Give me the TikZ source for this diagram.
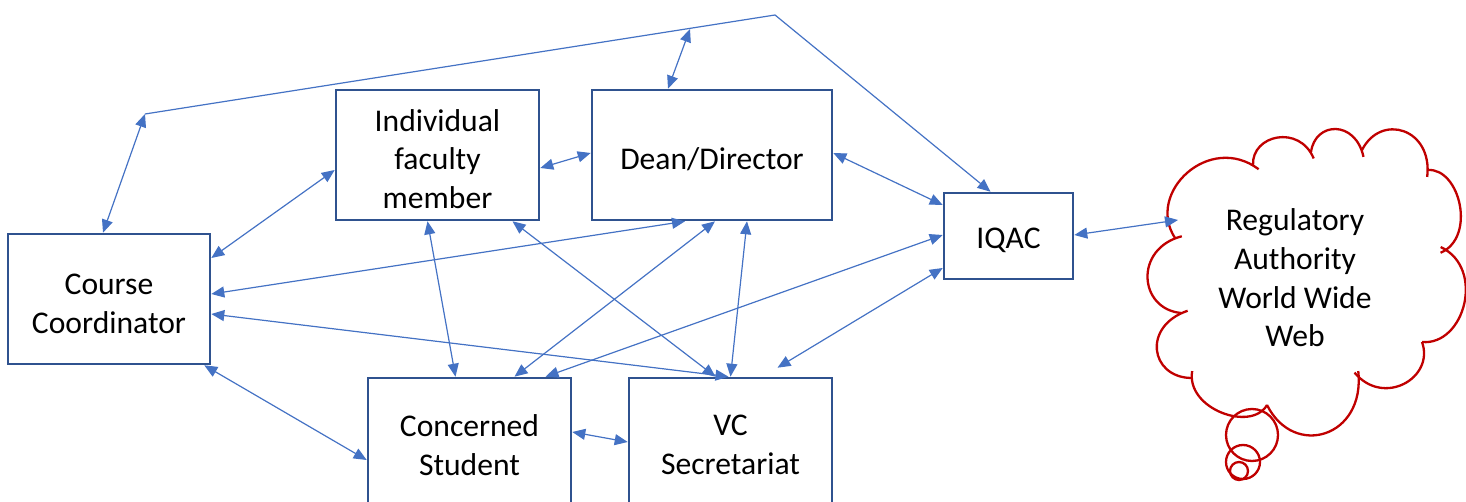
\documentclass[tikz,border=0pt]{standalone}
\usepackage{fontspec}
\setmainfont{Carlito}
\usetikzlibrary{arrows.meta,calc}
\definecolor{linkblue}{HTML}{4472C4}
\definecolor{boxblue}{HTML}{2F528F}
\definecolor{cloudred}{HTML}{C00000}
% taller first line, so the text block sits a little lower in its box
\newcommand{\firstline}{\rule{0pt}{30pt}}

\begin{document}
\begin{tikzpicture}[x=1pt,y=-1pt,
  unit/.style={draw=boxblue, line width=2.6pt, fill=white, inner sep=0pt,
    align=center, font=\fontsize{31.6}{38.6}\selectfont},
  link/.style={draw=linkblue, line width=1.2pt,
    {Triangle[length=13pt,width=11pt]}-{Triangle[length=13pt,width=11pt]}},
  oneway/.style={draw=linkblue, line width=1.2pt, -{Triangle[length=13pt,width=11pt]}},
  puff/.style={draw=cloudred, line width=2.3pt},
]
\useasboundingbox (0,0) rectangle (1466,502);

% the six offices
\node[unit, minimum width=202pt, minimum height=130pt] (cc)   at (109,299)   {\firstline Course\\Coordinator};
\node[unit, minimum width=203pt, minimum height=130pt] (ifm)  at (437.5,155) {\firstline Individual\\faculty\\member};
\node[unit, minimum width=240pt, minimum height=130pt] (dean) at (712,155)   {\firstline Dean/Director};
\node[unit, minimum width=129pt, minimum height=86pt]  (iqac) at (1008.5,236) {\firstline IQAC};
\node[unit, minimum width=203pt, minimum height=134pt] (cs)   at (469.5,445) {Concerned\\Student};
\node[unit, minimum width=203pt, minimum height=134pt] (vc)   at (730.5,445) {VC\\Secretariat};

% thought cloud: one arc per puff, each ending a little inside the next
\coordinate (cA) at (1175,238);
\coordinate (cB) at (1253,165);
\coordinate (cC) at (1311,152);
\coordinate (cD) at (1362,150);
\coordinate (cE) at (1428,170);
\coordinate (cF) at (1447,250);
\coordinate (cG) at (1422,342);
\coordinate (cH) at (1359,378);
\coordinate (cI) at (1267,405);
\coordinate (cJ) at (1191,378);
\coordinate (cK) at (1181,313);
\draw[puff, shorten >=-7pt] (cA) to[bend left=80, looseness=1.3]  (cB);
\draw[puff, shorten >=-7pt] (cB) to[bend left=80, looseness=1.3]  (cC);
\draw[puff, shorten >=-7pt] (cC) to[bend left=80, looseness=1.55] (cD);
\draw[puff, shorten >=-7pt] (cD) to[bend left=80, looseness=1.55] (cE);
\draw[puff, shorten >=-7pt] (cE) to[bend left=80, looseness=1.0]  (cF);
\draw[puff, shorten <=-7pt] (cF) to[bend left=80, looseness=1.15] (cG);
\draw[puff, shorten >=-7pt] (cG) to[bend left=80, looseness=1.35] (cH);
\draw[puff, shorten <=-7pt] (cH) to[bend left=80, looseness=1.6]  (cI);
\draw[puff, shorten >=-7pt] (cI) to[bend left=80, looseness=1.0]  (cJ);
\draw[puff, shorten >=-7pt] (cJ) to[bend left=80, looseness=1.6]  (cK);
\draw[puff, shorten >=-7pt] (cK) to[bend left=80, looseness=1.45] (cA);
\draw[puff] (1252,435) circle[radius=26pt];
\draw[puff] (1243,462) circle[radius=17pt];
\draw[puff] (1239,471) circle[radius=9pt];
\node[align=center, font=\fontsize{31.6}{38.6}\selectfont] (ra) at (1295,278)
  {Regulatory\\Authority\\World Wide\\Web};
\coordinate (cloudL) at (1178,220);

% bends of the long upper line
\coordinate (p1) at (145,114);
\coordinate (p2) at (775,15);
\coordinate (p3) at (690,29);

% connectors
\draw[link] ($(cc.north)+(-6,0)$) -- (p1);
\draw[oneway] (p1) -- (p2) -- ($(iqac.north)+(-18,0)$);
\draw[link] ($(dean.north)+(-44,0)$) -- (p3);
\draw[link] ($(cc.east)+(0,-41)$) -- ($(ifm.west)+(0,15)$);
\draw[link] ($(ifm.east)+(0,13)$) -- ($(dean.west)+(0,-2)$);
\draw[link] ($(cc.east)+(0,-5)$) -- ($(dean.south)+(-27,0)$);
\draw[link] ($(cc.east)+(0,15)$) -- ($(vc.north)+(-2,0)$);
\draw[link] ($(ifm.south)+(-10,0)$) -- ($(cs.north)+(-14,0)$);
\draw[link] ($(ifm.south)+(75,0)$) -- ($(vc.north)+(-15,0)$);
\draw[link] ($(dean.south)+(3,0)$) -- ($(cs.north)+(45,0)$);
\draw[link] ($(dean.south)+(35,0)$) -- (vc.north);
\draw[link] ($(cs.north)+(76,0)$) -- ($(iqac.west)+(0,-1)$);
\draw[link] ($(vc.north)+(47,-9)$) -- ($(iqac.west)+(0,32)$);
\draw[link] ($(dean.east)+(0,-2)$) -- ($(iqac.west)+(0,-31)$);
\draw[link] ($(iqac.east)+(0,-1)$) -- (cloudL);
\draw[link] ($(cc.south east)+(-7,0)$) -- ($(cs.west)+(0,15)$);
\draw[link] ($(cs.east)+(0,-13)$) -- ($(vc.west)+(0,-3)$);
\end{tikzpicture}
\end{document}
